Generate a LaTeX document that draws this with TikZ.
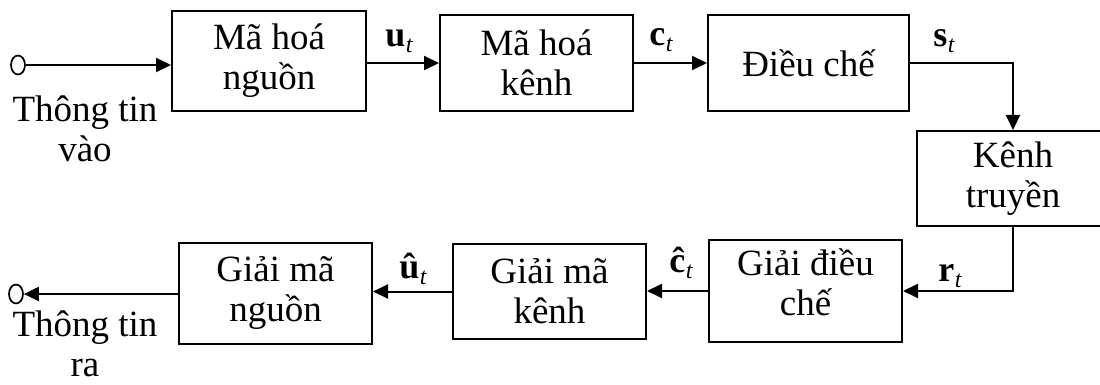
\documentclass[tikz,border=0pt]{standalone}
\usepackage{fontspec}
\setmainfont{Liberation Serif}
\usetikzlibrary{arrows.meta,shapes.geometric}
% bold signal letter with an italic subscript t
\newcommand\sigl[1]{\textbf{#1}\kern0.5pt\raisebox{-0.35ex}{\fontsize{24}{24}\selectfont\itshape t}}
\begin{document}
\begin{tikzpicture}[x=1pt,y=-1pt,
  blk/.style={draw, line width=2pt, minimum width=193pt, minimum height=96pt,
    align=center, inner sep=0pt, font=\fontsize{37}{40}\selectfont},
  txt/.style={align=center, inner sep=0pt, font=\fontsize{37}{40}\selectfont},
  wire/.style={line width=2pt},
  arr/.style={wire, -{Triangle[length=15pt,width=14pt]}},
  term/.style={draw, ellipse, line width=1.7pt, minimum width=14pt,
    minimum height=19pt, inner sep=0pt},
  lbl/.style={font=\fontsize{36}{36}\selectfont, inner sep=0pt},
  captxt/.style={align=center, font=\fontsize{37}{40}\selectfont, inner sep=0pt}]
\clip (0,0) rectangle (1100,385);

% transmitter chain
\node[blk, minimum width=194pt, minimum height=100pt] (b1) at (269,61) {Mã hoá\\nguồn};
\node[blk] (b2) at (536.5,63) {Mã hoá\\kênh};
\node[blk, minimum width=201pt] (b3) at (808.5,63) {Điều chế};
% channel
\node[blk, minimum width=192pt, minimum height=95pt] (b4) at (1013,178.5) {Kênh\\truyền};
% receiver chain
\node[blk, minimum height=102pt] (b6) at (805.5,291) {};
\node[txt] (t6) at ([yshift=9pt]b6.center) {Giải điều\\chế};
\node[blk, minimum height=95pt] (b7) at (549.5,291.5) {Giải mã\\kênh};
\node[blk, minimum height=101pt] (b8) at (275.5,293.5) {Giải mã\\nguồn};

% terminals
\node[term] (in) at (18,65) {};
\node[term] (out) at (16,294) {};
\node[captxt, anchor=north] (cin) at (85,96) {Thông tin\\vào};
\node[captxt, anchor=north] (cout) at (85,311) {Thông tin\\ra};

% connectors
\draw[arr] (in.east) -- (in.east -| b1.west);
\draw[arr] (b1.east |- b2.west) -- (b2.west);
\draw[arr] (b2.east) -- (b3.west);
\draw[arr] (b3.east) -| (b4.north);
\draw[arr] (b4.south) |- (b6.east);
\draw[arr] (b6.west) -- (b6.west -| b7.east);
\draw[arr] (b7.west) -- (b7.west -| b8.east);
\draw[arr] (b8.west |- out) -- (out.east);

% signal labels
\node[lbl] (lu) at (399,41) {\sigl{u}};
\node[lbl] (lc) at (661,40) {\sigl{c}};
\node[lbl] (ls) at (944,41) {\sigl{s}};
\node[lbl] (lr) at (950,276) {\sigl{r}};
\node[lbl] (lch) at (681,263) {\sigl{ĉ}};
\node[lbl] (luh) at (413,269) {\sigl{û}};
\end{tikzpicture}
\end{document}
